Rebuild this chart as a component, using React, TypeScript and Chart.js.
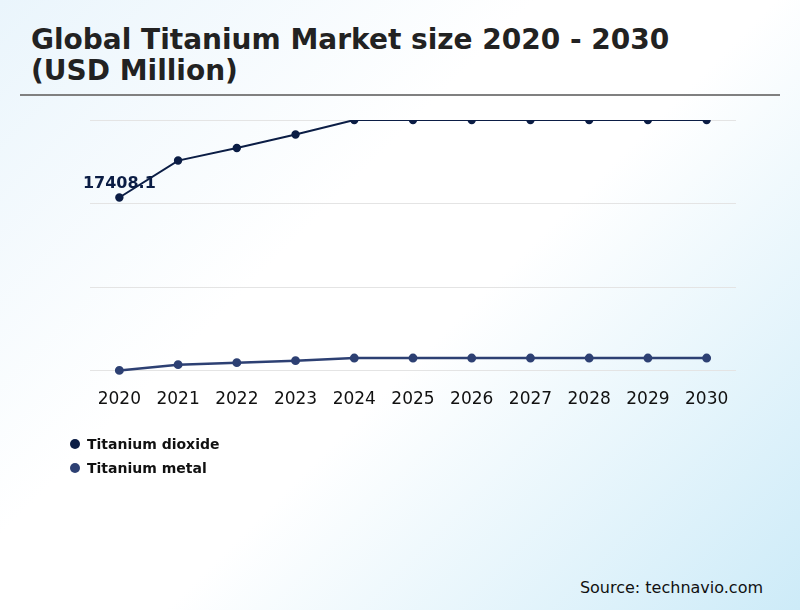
import React, { useEffect, useRef } from 'react';
import { Chart, registerables } from 'chart.js';

Chart.register(...registerables);

const years = ['2020', '2021', '2022', '2023', '2024', '2025', '2026', '2027', '2028', '2029', '2030'];
const dioxideValues = [17408.1, 21120, 22380, 23740, 25200, 25200, 25200, 25200, 25200, 25200, 25200];
const metalValues = [20, 600, 800, 1000, 1260, 1260, 1260, 1260, 1260, 1260, 1260];
const seriesNames = ['Titanium dioxide', 'Titanium metal'];
const seriesColors = ['#0b1d45', '#2d4073'];

const FONT = '"DejaVu Sans", sans-serif';

// draws the value label over the first point of the first series
const firstLabelPlugin = {
  id: 'firstLabel',
  afterDatasetsDraw(chart: any) {
    const meta = chart.getDatasetMeta(0);
    const pt = meta.data[0];
    if (!pt) return;
    const ctx = chart.ctx;
    ctx.save();
    ctx.font = `bold 16px ${FONT}`;
    ctx.fillStyle = seriesColors[0];
    ctx.textAlign = 'center';
    ctx.textBaseline = 'middle';
    ctx.fillText(String(dioxideValues[0]), pt.x, pt.y - 14);
    ctx.restore();
  },
};

const App: React.FC = () => {
  const chartRef = useRef<HTMLCanvasElement | null>(null);
  const chartInstance = useRef<Chart | null>(null);

  useEffect(() => {
    document.body.style.margin = '0';
    if (!chartRef.current) return;
    if (chartInstance.current) chartInstance.current.destroy();
    const ctx = chartRef.current.getContext('2d');
    if (!ctx) return;

    chartInstance.current = new Chart(ctx, {
      type: 'line',
      data: {
        labels: years,
        datasets: [
          {
            label: seriesNames[0],
            data: dioxideValues,
            borderColor: seriesColors[0],
            backgroundColor: seriesColors[0],
            borderWidth: 2,
            pointRadius: 3.2,
            pointHoverRadius: 3.2,
          },
          {
            label: seriesNames[1],
            data: metalValues,
            borderColor: seriesColors[1],
            backgroundColor: seriesColors[1],
            borderWidth: 2.5,
            pointRadius: 3.2,
            pointHoverRadius: 3.2,
            clip: false,
          },
        ],
      },
      options: {
        responsive: false,
        animation: false,
        layout: { padding: { left: 90, right: 64, top: 20, bottom: 12 } },
        plugins: {
          legend: { display: false },
          tooltip: { enabled: false },
        },
        scales: {
          x: {
            offset: true,
            grid: { display: false },
            border: { display: false },
            ticks: {
              color: '#111',
              font: { family: FONT, size: 17 },
              padding: 11,
              maxRotation: 0,
              autoSkip: false,
            },
          },
          y: {
            min: 0,
            max: 25200,
            ticks: { display: false, stepSize: 8400 },
            border: { display: false },
            grid: { color: '#e4e4e4', lineWidth: 1, drawTicks: false },
          },
        },
      },
      plugins: [firstLabelPlugin],
    });

    return () => {
      if (chartInstance.current) {
        chartInstance.current.destroy();
        chartInstance.current = null;
      }
    };
  }, []);

  return (
    <div
      style={{
        position: 'relative',
        width: 800,
        height: 610,
        overflow: 'hidden',
        fontFamily: FONT,
        background: 'linear-gradient(135deg, #eaf5fc 0%, #ffffff 38%, #ffffff 55%, #cdebf8 100%)',
      }}
    >
      <div
        style={{
          position: 'absolute',
          left: 31,
          top: 24,
          fontSize: 28,
          fontWeight: 'bold',
          lineHeight: '31px',
          color: '#222',
        }}
      >
        Global Titanium Market size 2020 - 2030
        <br />
        (USD Million)
      </div>
      <div style={{ position: 'absolute', left: 20, top: 94, width: 760, height: 2, background: '#808080' }} />
      <canvas ref={chartRef} width={800} height={333} style={{ position: 'absolute', left: 0, top: 100 }} />
      <div style={{ position: 'absolute', left: 70, top: 432 }}>
        {seriesNames.map((name, i) => (
          <div key={name} style={{ display: 'flex', alignItems: 'center', height: 24 }}>
            <span
              style={{
                width: 10,
                height: 10,
                borderRadius: '50%',
                background: seriesColors[i],
                display: 'inline-block',
                marginRight: 7,
              }}
            />
            <span style={{ fontSize: 14, fontWeight: 'bold', color: '#111' }}>{name}</span>
          </div>
        ))}
      </div>
      <div style={{ position: 'absolute', right: 37, top: 578, fontSize: 16, color: '#111' }}>
        Source: technavio.com
      </div>
    </div>
  );
};

export default App;
